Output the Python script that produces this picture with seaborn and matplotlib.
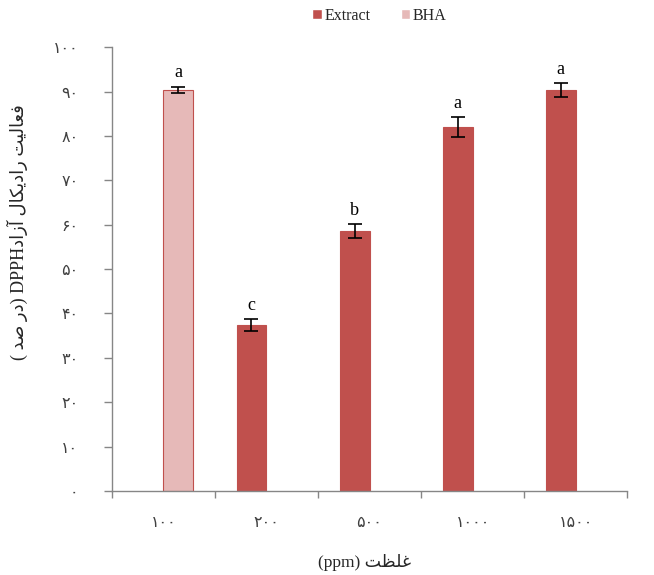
import matplotlib
matplotlib.use("Agg")
import matplotlib.pyplot as plt
from matplotlib.ticker import FixedLocator, NullFormatter
import seaborn as sns
import pandas as pd

# ---- data -------------------------------------------------------------
concentrations = ["۱۰۰", "۲۰۰", "۵۰۰", "۱۰۰۰", "۱۵۰۰"]
series = ["BHA", "Extract", "Extract", "Extract", "Extract"]
activity = [90.4, 37.4, 58.5, 82.0, 90.3]
errors = [0.7, 1.3, 1.6, 2.3, 1.6]
letters = ["a", "c", "b", "a", "a"]
y_ticks = [0, 10, 20, 30, 40, 50, 60, 70, 80, 90, 100]
y_tick_labels = ["۰", "۱۰", "۲۰", "۳۰", "۴۰", "۵۰", "۶۰", "۷۰", "۸۰", "۹۰", "۱۰۰"]
hue_order = ["Extract", "BHA"]
palette = {"Extract": "#C0504D", "BHA": "#E6B9B8"}

# ---- minimal Arabic-script shaping (matplotlib has no complex text layout)
FORMS = {  # isolated, final, initial, medial
    "ا": ("\uFE8D", "\uFE8E", None, None),
    "آ": ("\uFE81", "\uFE82", None, None),
    "د": ("\uFEA9", "\uFEAA", None, None),
    "ر": ("\uFEAD", "\uFEAE", None, None),
    "ز": ("\uFEAF", "\uFEB0", None, None),
    "ت": ("\uFE95", "\uFE96", "\uFE97", "\uFE98"),
    "ص": ("\uFEB9", "\uFEBA", "\uFEBB", "\uFEBC"),
    "ظ": ("\uFEC5", "\uFEC6", "\uFEC7", "\uFEC8"),
    "ع": ("\uFEC9", "\uFECA", "\uFECB", "\uFECC"),
    "غ": ("\uFECD", "\uFECE", "\uFECF", "\uFED0"),
    "ف": ("\uFED1", "\uFED2", "\uFED3", "\uFED4"),
    "ل": ("\uFEDD", "\uFEDE", "\uFEDF", "\uFEE0"),
    "ی": ("\uFBFC", "\uFBFD", "\uFBFE", "\uFBFF"),
    "ک": ("\uFB8E", "\uFB8F", "\uFB90", "\uFB91"),
}


def rtl(text):
    """Shape Arabic-script letters and return them in visual order."""
    out = []
    for i, ch in enumerate(text):
        if ch not in FORMS:
            out.append(ch)
            continue
        prev = text[i - 1] if i > 0 else ""
        nxt = text[i + 1] if i + 1 < len(text) else ""
        joins_prev = prev in FORMS and FORMS[prev][2] is not None
        joins_next = nxt in FORMS and FORMS[ch][2] is not None
        iso, fin, ini, med = FORMS[ch]
        if joins_prev and joins_next:
            out.append(med)
        elif joins_prev:
            out.append(fin)
        elif joins_next:
            out.append(ini)
        else:
            out.append(iso)
    return "".join(reversed(out))


df = pd.DataFrame({"conc": concentrations, "series": series, "activity": activity})

# ---- figure -----------------------------------------------------------
sns.set_theme(style="white")
plt.rcParams["font.family"] = ["Liberation Serif", "DejaVu Sans"]

fig = plt.figure(figsize=(6.54, 5.75), dpi=100)
ax = fig.add_axes([0.171, 0.146, 0.788, 0.772])

sns.barplot(data=df, x="conc", y="activity", hue="series", hue_order=hue_order,
            order=concentrations, palette=palette, width=0.58, dodge=True,
            errorbar=None, ax=ax, saturation=1, legend=True)

for cont, name in zip(ax.containers, hue_order):
    for bar in cont:
        h = bar.get_height()
        if pd.isna(h) or h == 0:
            continue
        cx = bar.get_x() + bar.get_width() / 2
        idx = int(round(cx))
        bar.set_edgecolor("#C0504D")
        bar.set_linewidth(0.8)
        ax.errorbar(cx, activity[idx], yerr=errors[idx], fmt="none",
                    ecolor="black", elinewidth=1.2, capsize=5, capthick=1.2)
        ax.text(cx, activity[idx] + errors[idx] + 1.2, letters[idx],
                ha="center", va="bottom", fontsize=13,
                family=["Liberation Serif"], color="black")

ax.set_xlim(-0.5, 4.5)
ax.set_ylim(0, 100)
ax.set_yticks(y_ticks)
ax.set_yticklabels(y_tick_labels, fontsize=11.5, color="#404040",
                   family=["DejaVu Sans"])
ax.set_xticks(range(len(concentrations)))
ax.set_xticklabels(concentrations, fontsize=11.5, color="#404040",
                   family=["DejaVu Sans"])
ax.xaxis.set_minor_locator(FixedLocator([-0.5, 0.5, 1.5, 2.5, 3.5, 4.5]))
ax.xaxis.set_minor_formatter(NullFormatter())
ax.tick_params(axis="x", which="major", length=0, pad=17)
ax.tick_params(axis="x", which="minor", length=5, width=1, color="#868686",
               direction="out", bottom=True)
ax.tick_params(axis="y", length=6, width=1, color="#868686", direction="out",
               left=True, pad=18)

for side in ("top", "right"):
    ax.spines[side].set_visible(False)
for side in ("left", "bottom"):
    ax.spines[side].set_color("#868686")
    ax.spines[side].set_linewidth(1)

ax.set_xlabel("(ppm) " + rtl("غلظت"), fontsize=12.5, color="#262626",
              family=["Liberation Serif", "DejaVu Sans"])
ax.xaxis.set_label_coords(0.49, -0.142)
ylab = ("( " + rtl("در صد") + ") DPPH" + rtl("آزاد") + " " + rtl("رادیکال")
        + " " + rtl("فعالیت"))
ax.set_ylabel(ylab, fontsize=13, color="#262626",
              family=["Liberation Serif", "DejaVu Sans"])
ax.yaxis.set_label_coords(-0.163, 0.583)

handles, labels = ax.get_legend_handles_labels()
ax.legend(handles, labels, loc="center", bbox_to_anchor=(0.58, 0.973),
          bbox_transform=fig.transFigure, ncol=2, frameon=False,
          handlelength=0.6, handleheight=0.6, handletextpad=0.15,
          columnspacing=1.9, prop={"family": "Liberation Serif", "size": 11.5})

fig.savefig("out.png", dpi=100, facecolor="white")
